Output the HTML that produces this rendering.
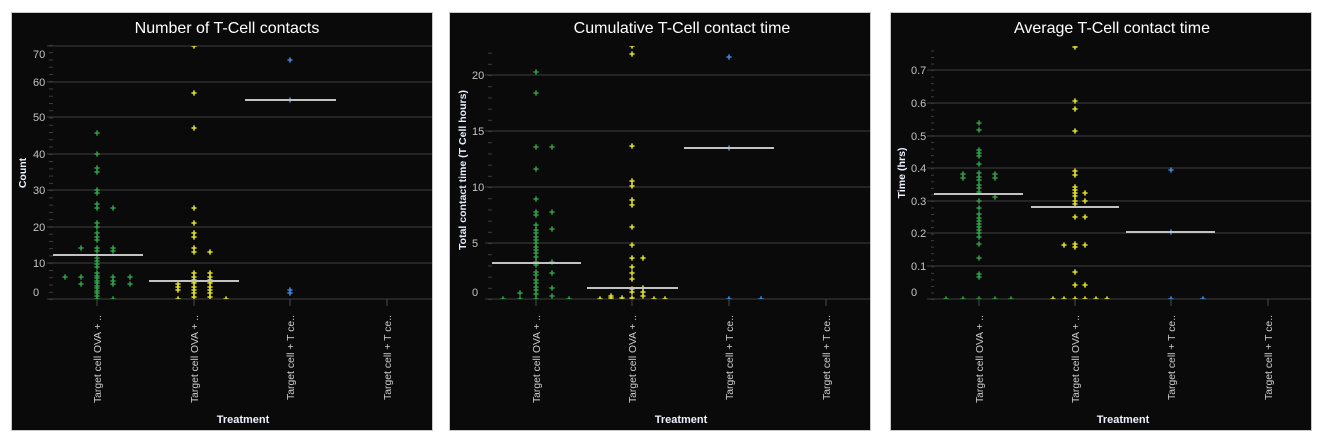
<!DOCTYPE html>
<html><head><meta charset="utf-8"><style>
html,body{margin:0;padding:0;background:#fff;}
svg{display:block;}
text{font-family:"Liberation Sans",sans-serif;}
.t{font-size:16px;fill:#fff;text-anchor:middle;}
.yl{font-size:11px;fill:#c4c4c4;}
.ax{font-size:10.5px;font-weight:bold;fill:#eef2ff;text-anchor:middle;}
.cl{font-size:10.5px;fill:#cfcfcf;text-anchor:end;}
.g{stroke:#2c2c2c;stroke-width:1.5;}
.tk{stroke:#4a4a4a;stroke-width:1;}
.md{stroke:#c2c2c2;stroke-width:2;}
</style></head><body>
<svg width="1324" height="445" viewBox="0 0 1324 445" xmlns="http://www.w3.org/2000/svg">
<defs>
<path id="p" d="M-2.6 0H2.6M0 -2.6V2.6" stroke-width="1.6" fill="none"/>
<clipPath id="c1"><rect x="47" y="46" width="385" height="253"/></clipPath>
<clipPath id="c2"><rect x="485" y="46" width="385" height="253"/></clipPath>
<clipPath id="c3"><rect x="927" y="46" width="384" height="253"/></clipPath>
<pattern id="m1" patternUnits="userSpaceOnUse" x="0" y="299" width="10" height="7.26"><rect x="0" y="0" width="10" height="1" fill="#3c3c3c"/></pattern>
<pattern id="m2" patternUnits="userSpaceOnUse" x="0" y="299" width="10" height="11.2"><rect x="0" y="0" width="10" height="1" fill="#3c3c3c"/></pattern>
<pattern id="m3" patternUnits="userSpaceOnUse" x="0" y="299" width="10" height="6.54"><rect x="0" y="0" width="10" height="1" fill="#3c3c3c"/></pattern>
</defs>
<rect width="1324" height="445" fill="#fff"/>

<!-- ================= PANEL 1 ================= -->
<rect x="11.5" y="12.5" width="421" height="418" fill="#0a0a0a" stroke="#c8c8c8" stroke-width="1"/>
<text class="t" x="227" y="33">Number of T-Cell contacts</text>
<g class="g">
<line x1="47" y1="46" x2="432" y2="46"/><line x1="47" y1="82" x2="432" y2="82"/><line x1="47" y1="117" x2="432" y2="117"/><line x1="47" y1="154" x2="432" y2="154"/><line x1="47" y1="190" x2="432" y2="190"/><line x1="47" y1="227" x2="432" y2="227"/><line x1="47" y1="263" x2="432" y2="263"/><line x1="47" y1="299" x2="432" y2="299"/>
</g>
<rect x="49" y="44" width="4" height="256" fill="url(#m1)"/>
<g class="yl">
<text x="33" y="58">70</text><text x="33" y="86">60</text><text x="33" y="121">50</text><text x="33" y="158">40</text><text x="33" y="194">30</text><text x="33" y="231">20</text><text x="33" y="267">10</text><text x="33" y="296">0</text>
</g>
<g class="tk"><line x1="97" y1="299" x2="97" y2="306"/><line x1="194" y1="299" x2="194" y2="306"/><line x1="290" y1="299" x2="290" y2="306"/><line x1="387" y1="299" x2="387" y2="306"/></g>
<text class="ax" transform="translate(26,173) rotate(-90)">Count</text>
<g class="cl">
<text transform="translate(101,315) rotate(-90)" textLength="88" lengthAdjust="spacingAndGlyphs">Target cell OVA + ..</text>
<text transform="translate(198,315) rotate(-90)" textLength="88" lengthAdjust="spacingAndGlyphs">Target cell OVA + ..</text>
<text transform="translate(294,315) rotate(-90)" textLength="85" lengthAdjust="spacingAndGlyphs">Target cell + T ce..</text>
<text transform="translate(391,315) rotate(-90)" textLength="85" lengthAdjust="spacingAndGlyphs">Target cell + T ce..</text>
</g>
<text class="ax" x="243" y="423" style="font-size:11px">Treatment</text>
<g clip-path="url(#c1)">
<g stroke="#2f9c47">
<use href="#p" x="97" y="133"/><use href="#p" x="97" y="154"/><use href="#p" x="97" y="168"/><use href="#p" x="97" y="172"/><use href="#p" x="97" y="190"/><use href="#p" x="97" y="193"/><use href="#p" x="97" y="204"/><use href="#p" x="97" y="208"/><use href="#p" x="97" y="223"/><use href="#p" x="97" y="227"/><use href="#p" x="97" y="233"/><use href="#p" x="97" y="237"/><use href="#p" x="97" y="240"/><use href="#p" x="97" y="248"/><use href="#p" x="97" y="251"/><use href="#p" x="97" y="258"/><use href="#p" x="97" y="261"/><use href="#p" x="97" y="264"/><use href="#p" x="97" y="267"/><use href="#p" x="97" y="273"/><use href="#p" x="97" y="276"/><use href="#p" x="97" y="278"/><use href="#p" x="97" y="281"/><use href="#p" x="97" y="283"/><use href="#p" x="97" y="286"/><use href="#p" x="97" y="288"/><use href="#p" x="97" y="291"/><use href="#p" x="97" y="293"/><use href="#p" x="97" y="296"/><use href="#p" x="97" y="299"/>
<use href="#p" x="81" y="248"/><use href="#p" x="81" y="277"/><use href="#p" x="81" y="284"/>
<use href="#p" x="65" y="277"/>
<use href="#p" x="113" y="208"/><use href="#p" x="113" y="248"/><use href="#p" x="113" y="251"/><use href="#p" x="113" y="277"/><use href="#p" x="113" y="281"/><use href="#p" x="113" y="284"/><use href="#p" x="113" y="299"/>
<use href="#p" x="130" y="277"/><use href="#p" x="130" y="284"/>
</g>
<g stroke="#dcdc2a">
<use href="#p" x="194" y="46"/><use href="#p" x="194" y="93"/><use href="#p" x="194" y="128"/><use href="#p" x="194" y="208"/><use href="#p" x="194" y="223"/><use href="#p" x="194" y="233"/><use href="#p" x="194" y="237"/><use href="#p" x="194" y="248"/><use href="#p" x="194" y="252"/><use href="#p" x="194" y="273"/><use href="#p" x="194" y="277"/><use href="#p" x="194" y="280"/><use href="#p" x="194" y="283"/><use href="#p" x="194" y="287"/><use href="#p" x="194" y="290"/><use href="#p" x="194" y="293"/><use href="#p" x="194" y="297"/>
<use href="#p" x="178" y="284"/><use href="#p" x="178" y="287"/><use href="#p" x="178" y="290"/><use href="#p" x="178" y="299"/>
<use href="#p" x="210" y="252"/><use href="#p" x="210" y="273"/><use href="#p" x="210" y="277"/><use href="#p" x="210" y="280"/><use href="#p" x="210" y="283"/><use href="#p" x="210" y="287"/><use href="#p" x="210" y="290"/><use href="#p" x="210" y="293"/><use href="#p" x="210" y="297"/>
<use href="#p" x="226" y="299"/>
</g>
<g stroke="#3c86d8">
<use href="#p" x="290" y="60"/><use href="#p" x="290" y="100"/><use href="#p" x="290" y="290"/><use href="#p" x="290" y="293"/>
</g>
</g>
<g class="md"><line x1="53" y1="255" x2="143" y2="255"/><line x1="149" y1="281" x2="239" y2="281"/><line x1="245" y1="100" x2="336" y2="100"/></g>

<!-- ================= PANEL 2 ================= -->
<rect x="449.5" y="12.5" width="421" height="418" fill="#0a0a0a" stroke="#c8c8c8" stroke-width="1"/>
<text class="t" x="682" y="33">Cumulative T-Cell contact time</text>
<g class="g">
<line x1="485" y1="75" x2="870" y2="75"/><line x1="485" y1="131" x2="870" y2="131"/><line x1="485" y1="187" x2="870" y2="187"/><line x1="485" y1="243" x2="870" y2="243"/><line x1="485" y1="299" x2="870" y2="299"/>
</g>
<rect x="488" y="50" width="4" height="250" fill="url(#m2)"/>
<g class="yl">
<text x="472" y="79">20</text><text x="472" y="135">15</text><text x="472" y="191">10</text><text x="472" y="247">5</text><text x="472" y="296">0</text>
</g>
<g class="tk"><line x1="536" y1="299" x2="536" y2="306"/><line x1="632" y1="299" x2="632" y2="306"/><line x1="729" y1="299" x2="729" y2="306"/><line x1="826" y1="299" x2="826" y2="306"/></g>
<text class="ax" transform="translate(466,170) rotate(-90)" textLength="160" lengthAdjust="spacingAndGlyphs" style="fill:#e6eeff">Total contact time (T Cell hours)</text>
<g class="cl">
<text transform="translate(540,315) rotate(-90)" textLength="88" lengthAdjust="spacingAndGlyphs">Target cell OVA + ..</text>
<text transform="translate(636,315) rotate(-90)" textLength="88" lengthAdjust="spacingAndGlyphs">Target cell OVA + ..</text>
<text transform="translate(733,315) rotate(-90)" textLength="85" lengthAdjust="spacingAndGlyphs">Target cell + T ce..</text>
<text transform="translate(830,315) rotate(-90)" textLength="85" lengthAdjust="spacingAndGlyphs">Target cell + T ce..</text>
</g>
<text class="ax" x="681" y="423" style="font-size:11px">Treatment</text>
<g clip-path="url(#c2)">
<g stroke="#2f9c47">
<use href="#p" x="536" y="72"/><use href="#p" x="536" y="93"/><use href="#p" x="536" y="147"/><use href="#p" x="536" y="169"/><use href="#p" x="536" y="199"/><use href="#p" x="536" y="212"/><use href="#p" x="536" y="215"/><use href="#p" x="536" y="225"/><use href="#p" x="536" y="230"/><use href="#p" x="536" y="233"/><use href="#p" x="536" y="237"/><use href="#p" x="536" y="240"/><use href="#p" x="536" y="243"/><use href="#p" x="536" y="247"/><use href="#p" x="536" y="250"/><use href="#p" x="536" y="253"/><use href="#p" x="536" y="257"/><use href="#p" x="536" y="262"/><use href="#p" x="536" y="265"/><use href="#p" x="536" y="272"/><use href="#p" x="536" y="275"/><use href="#p" x="536" y="280"/><use href="#p" x="536" y="283"/><use href="#p" x="536" y="287"/><use href="#p" x="536" y="290"/><use href="#p" x="536" y="294"/><use href="#p" x="536" y="299"/>
<use href="#p" x="552" y="147"/><use href="#p" x="552" y="212"/><use href="#p" x="552" y="229"/><use href="#p" x="552" y="262"/><use href="#p" x="552" y="273"/><use href="#p" x="552" y="288"/><use href="#p" x="552" y="296"/>
<use href="#p" x="520" y="293"/><use href="#p" x="520" y="299"/>
<use href="#p" x="503" y="299"/><use href="#p" x="569" y="299"/>
</g>
<g stroke="#dcdc2a">
<use href="#p" x="632" y="46"/><use href="#p" x="632" y="54"/><use href="#p" x="632" y="146"/><use href="#p" x="632" y="181"/><use href="#p" x="632" y="186"/><use href="#p" x="632" y="200"/><use href="#p" x="632" y="205"/><use href="#p" x="632" y="227"/><use href="#p" x="632" y="245"/><use href="#p" x="632" y="258"/><use href="#p" x="632" y="267"/><use href="#p" x="632" y="273"/><use href="#p" x="632" y="279"/><use href="#p" x="632" y="289"/><use href="#p" x="632" y="292"/><use href="#p" x="632" y="298"/>
<use href="#p" x="643" y="258"/><use href="#p" x="643" y="288"/><use href="#p" x="643" y="292"/><use href="#p" x="643" y="296"/>
<use href="#p" x="611" y="296"/><use href="#p" x="611" y="298"/><use href="#p" x="622" y="298"/><use href="#p" x="600" y="299"/><use href="#p" x="654" y="299"/><use href="#p" x="665" y="299"/>
</g>
<g stroke="#3c86d8">
<use href="#p" x="729" y="57"/><use href="#p" x="729" y="148"/><use href="#p" x="729" y="299"/><use href="#p" x="761" y="299"/>
</g>
</g>
<g class="md"><line x1="492" y1="263" x2="581" y2="263"/><line x1="587" y1="288" x2="678" y2="288"/><line x1="684" y1="148" x2="774" y2="148"/></g>

<!-- ================= PANEL 3 ================= -->
<rect x="890.5" y="12.5" width="421" height="418" fill="#0a0a0a" stroke="#c8c8c8" stroke-width="1"/>
<text class="t" x="1112" y="33">Average T-Cell contact time</text>
<g class="g">
<line x1="927" y1="70" x2="1311" y2="70"/><line x1="927" y1="103" x2="1311" y2="103"/><line x1="927" y1="136" x2="1311" y2="136"/><line x1="927" y1="168" x2="1311" y2="168"/><line x1="927" y1="201" x2="1311" y2="201"/><line x1="927" y1="233" x2="1311" y2="233"/><line x1="927" y1="266" x2="1311" y2="266"/><line x1="927" y1="299" x2="1311" y2="299"/>
</g>
<rect x="931" y="48" width="3" height="252" fill="url(#m3)"/>
<g class="yl">
<text x="911" y="74">0.7</text><text x="911" y="107">0.6</text><text x="911" y="140">0.5</text><text x="911" y="172">0.4</text><text x="911" y="205">0.3</text><text x="911" y="237">0.2</text><text x="911" y="270">0.1</text><text x="911" y="296">0</text>
</g>
<g class="tk"><line x1="979" y1="299" x2="979" y2="306"/><line x1="1075" y1="299" x2="1075" y2="306"/><line x1="1171" y1="299" x2="1171" y2="306"/><line x1="1268" y1="299" x2="1268" y2="306"/></g>
<text class="ax" transform="translate(905,173) rotate(-90)" textLength="51" lengthAdjust="spacingAndGlyphs">Time (hrs)</text>
<g class="cl">
<text transform="translate(983,315) rotate(-90)" textLength="88" lengthAdjust="spacingAndGlyphs">Target cell OVA + ..</text>
<text transform="translate(1079,315) rotate(-90)" textLength="88" lengthAdjust="spacingAndGlyphs">Target cell OVA + ..</text>
<text transform="translate(1175,315) rotate(-90)" textLength="85" lengthAdjust="spacingAndGlyphs">Target cell + T ce..</text>
<text transform="translate(1272,315) rotate(-90)" textLength="85" lengthAdjust="spacingAndGlyphs">Target cell + T ce..</text>
</g>
<text class="ax" x="1123" y="423" style="font-size:11px">Treatment</text>
<g clip-path="url(#c3)">
<g stroke="#2f9c47">
<use href="#p" x="979" y="123"/><use href="#p" x="979" y="130"/><use href="#p" x="979" y="150"/><use href="#p" x="979" y="153"/><use href="#p" x="979" y="156"/><use href="#p" x="979" y="164"/><use href="#p" x="979" y="173"/><use href="#p" x="979" y="177"/><use href="#p" x="979" y="180"/><use href="#p" x="979" y="185"/><use href="#p" x="979" y="188"/><use href="#p" x="979" y="192"/><use href="#p" x="979" y="201"/><use href="#p" x="979" y="208"/><use href="#p" x="979" y="214"/><use href="#p" x="979" y="218"/><use href="#p" x="979" y="221"/><use href="#p" x="979" y="224"/><use href="#p" x="979" y="227"/><use href="#p" x="979" y="230"/><use href="#p" x="979" y="233"/><use href="#p" x="979" y="237"/><use href="#p" x="979" y="244"/><use href="#p" x="979" y="258"/><use href="#p" x="979" y="274"/><use href="#p" x="979" y="277"/><use href="#p" x="979" y="299"/>
<use href="#p" x="963" y="174"/><use href="#p" x="963" y="178"/><use href="#p" x="963" y="299"/>
<use href="#p" x="995" y="174"/><use href="#p" x="995" y="178"/><use href="#p" x="995" y="197"/><use href="#p" x="995" y="299"/>
<use href="#p" x="946" y="299"/><use href="#p" x="1011" y="299"/>
</g>
<g stroke="#dcdc2a">
<use href="#p" x="1075" y="47"/><use href="#p" x="1075" y="101"/><use href="#p" x="1075" y="109"/><use href="#p" x="1075" y="131"/><use href="#p" x="1075" y="171"/><use href="#p" x="1075" y="175"/><use href="#p" x="1075" y="187"/><use href="#p" x="1075" y="190"/><use href="#p" x="1075" y="193"/><use href="#p" x="1075" y="196"/><use href="#p" x="1075" y="201"/><use href="#p" x="1075" y="204"/><use href="#p" x="1075" y="217"/><use href="#p" x="1075" y="244"/><use href="#p" x="1075" y="247"/><use href="#p" x="1075" y="272"/><use href="#p" x="1075" y="285"/><use href="#p" x="1075" y="299"/>
<use href="#p" x="1085" y="193"/><use href="#p" x="1085" y="201"/><use href="#p" x="1085" y="217"/><use href="#p" x="1085" y="245"/><use href="#p" x="1085" y="285"/><use href="#p" x="1085" y="299"/>
<use href="#p" x="1064" y="245"/><use href="#p" x="1064" y="299"/><use href="#p" x="1053" y="299"/><use href="#p" x="1096" y="299"/><use href="#p" x="1107" y="299"/>
</g>
<g stroke="#3c86d8">
<use href="#p" x="1171" y="170"/><use href="#p" x="1171" y="232"/><use href="#p" x="1171" y="299"/><use href="#p" x="1203" y="299"/>
</g>
</g>
<g class="md"><line x1="934" y1="194" x2="1023" y2="194"/><line x1="1031" y1="207" x2="1119" y2="207"/><line x1="1126" y1="232" x2="1215" y2="232"/></g>
</svg>
</body></html>
